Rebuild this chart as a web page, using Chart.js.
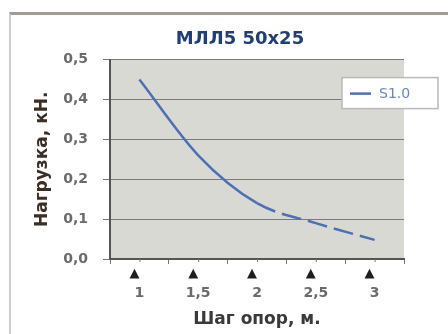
<!DOCTYPE html>
<html>
<head>
<meta charset="utf-8">
<script src="https://cdn.jsdelivr.net/npm/chart.js@4.4.1/dist/chart.umd.min.js"></script>
<style>
  html, body { margin: 0; padding: 0; background: #fff; }
  #ramka {
    position: absolute; left: 9px; top: 12px; width: 460px; height: 340px;
    border-top: 3px solid #a29c93; border-left: 2px solid #cfcfcf;
  }
  #wrap { position: absolute; left: 0; top: 0; width: 448px; height: 334px; }
</style>
</head>
<body>
<div id="ramka"></div>
<div id="wrap"><canvas id="grafik" width="448" height="334"></canvas></div>
<script>
// data grafik
var shagLabels = ['1', '1,5', '2', '2,5', '3'];
var nagruzka = [0.45, 0.26, 0.14, 0.09, 0.048];
var yTicks = [0, 0.1, 0.2, 0.3, 0.4, 0.5];
var namaSeri = 'S1.0';

var warnaGaris = '#4d6fb6';
var fontUtama = 'DejaVu Sans';

// latar abu2 di area plot
var latarPlot = {
  id: 'latarPlot',
  beforeDraw: function(chart) {
    var a = chart.chartArea, ctx = chart.ctx;
    ctx.save();
    ctx.fillStyle = '#d9d9d4';
    ctx.fillRect(a.left, a.top, a.right - a.left, a.bottom - a.top);
    ctx.restore();
  }
};

// segitiga di bawah sumbu x + legenda kotak
var hiasan = {
  id: 'hiasan',
  afterDraw: function(chart) {
    var ctx = chart.ctx, x = chart.scales.x, a = chart.chartArea;
    ctx.save();
    ctx.fillStyle = '#1e1e1e';
    ctx.font = '13px ' + fontUtama;
    ctx.textAlign = 'center';
    ctx.textBaseline = 'middle';
    shagLabels.forEach(function(l, i) {
      var px = x.getPixelForValue(i);
      ctx.fillText('\u25B2', px - 5, a.bottom + 15);
      ctx.strokeStyle = '#777';
      ctx.lineWidth = 1;
      ctx.beginPath();
      ctx.moveTo(px + 0.5, a.bottom);
      ctx.lineTo(px + 0.5, a.bottom + 3);
      ctx.stroke();
    });

    // legenda
    var lx = a.right - 62, ly = a.top + 18, lw = 96, lh = 31;
    ctx.fillStyle = '#fff';
    ctx.fillRect(lx, ly, lw, lh);
    ctx.strokeStyle = '#b9b9b9';
    ctx.lineWidth = 1.5;
    ctx.strokeRect(lx, ly, lw, lh);
    ctx.strokeStyle = warnaGaris;
    ctx.lineWidth = 2.5;
    ctx.beginPath();
    ctx.moveTo(lx + 8, ly + 16);
    ctx.lineTo(lx + 29, ly + 16);
    ctx.stroke();
    ctx.fillStyle = '#6a86c6';
    ctx.font = '14px ' + fontUtama;
    ctx.textAlign = 'left';
    ctx.fillText(namaSeri, lx + 37, ly + 17);
    ctx.restore();
  }
};

var ctx = document.getElementById('grafik');
new Chart(ctx, {
  type: 'line',
  data: {
    labels: shagLabels,
    datasets: [{
      label: namaSeri,
      data: nagruzka,
      borderColor: warnaGaris,
      borderWidth: 2.5,
      pointRadius: 0,
      cubicInterpolationMode: 'monotone',
      segment: {
        borderDash: function(c) { return c.p0DataIndex >= 2 ? [20, 7] : undefined; }
      }
    }]
  },
  options: {
    responsive: false,
    animation: false,
    layout: { padding: { left: 32, right: 0, top: 0, bottom: 0 } },
    plugins: {
      legend: { display: false },
      tooltip: { enabled: false },
      title: {
        display: true,
        text: 'МЛЛ5 50x25',
        color: '#1f3f7a',
        font: { family: fontUtama, size: 18, weight: 'bold' },
        padding: { top: 29, bottom: 9 }
      }
    },
    scales: {
      x: {
        type: 'category',
        offset: true,
        afterFit: function(s) { s.height = 75; },
        grid: { display: true, offset: true, drawOnChartArea: false, tickLength: 5, color: '#777' },
        border: { color: '#555', width: 2 },
        ticks: {
          color: '#6b6b6b',
          padding: 21,
          maxRotation: 0,
          font: { family: fontUtama, size: 14, weight: 'bold' }
        },
        title: {
          display: true,
          text: 'Шаг опор, м.',
          color: '#3a3a3a',
          font: { family: fontUtama, size: 17, weight: 'bold' },
          padding: { top: 0, bottom: 4 }
        }
      },
      y: {
        min: 0,
        max: 0.5,
        afterFit: function(s) { s.width = 78; },
        afterBuildTicks: function(s) { s.ticks = yTicks.map(function(v) { return { value: v }; }); },
        grid: { color: '#7a7a7a', lineWidth: 1, tickLength: 7 },
        border: { color: '#555', width: 2 },
        ticks: {
          color: '#6b6b6b',
          padding: 15,
          font: { family: fontUtama, size: 14, weight: 'bold' },
          callback: function(v) { return Number(v).toFixed(1).replace('.', ','); }
        },
        title: {
          display: true,
          text: 'Нагрузка, кН.',
          color: '#3a2e25',
          font: { family: fontUtama, size: 17, weight: 'bold' },
          padding: { top: 0, bottom: 0 }
        }
      },
      // sumbu kosong di kanan, cuma buat ruang (judul tetap di tengah ~240)
      kanan: {
        type: 'linear',
        position: 'right',
        afterFit: function(s) { s.width = 44; },
        grid: { display: false, drawTicks: false },
        border: { display: false },
        ticks: { display: false }
      }
    }
  },
  plugins: [latarPlot, hiasan]
});
</script>
</body>
</html>
